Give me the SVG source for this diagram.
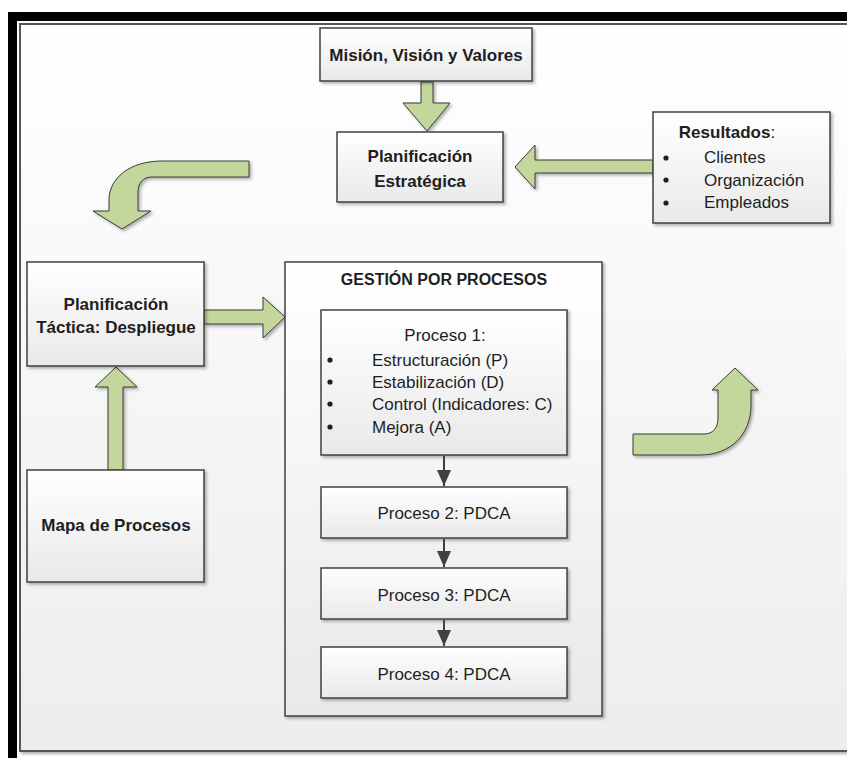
<svg xmlns="http://www.w3.org/2000/svg" width="847" height="758" viewBox="0 0 847 758">
  <defs>
    <linearGradient id="panelFill" x1="0" y1="0" x2="0" y2="1">
      <stop offset="0" stop-color="#ffffff"/>
      <stop offset="1" stop-color="#ededed"/>
    </linearGradient>
    <linearGradient id="boxFill" x1="0" y1="0" x2="0" y2="1">
      <stop offset="0" stop-color="#ffffff"/>
      <stop offset="1" stop-color="#e9e9e9"/>
    </linearGradient>
    <filter id="shadow" x="-10%" y="-10%" width="130%" height="130%">
      <feDropShadow dx="2" dy="2" stdDeviation="1.5" flood-color="#000000" flood-opacity="0.3"/>
    </filter>
    <marker id="arrowHead" viewBox="0 0 16 14" refX="16" refY="7" markerWidth="16" markerHeight="14" markerUnits="userSpaceOnUse" orient="auto">
      <path d="M0,0 L16,7 L0,14 Z" fill="#404040"/>
    </marker>
  </defs>
  <style>
    .box { fill: url(#boxFill); stroke: #404040; stroke-width: 1.5; filter: url(#shadow); }
    .green { fill: #c3d69b; stroke: #3a3a3a; stroke-width: 1; filter: url(#shadow); }
    .t { font-family: "Liberation Sans", Arial, sans-serif; font-size: 17px; fill: #1e1e1e; }
    .b { font-weight: bold; font-size: 17px; }
    .c { text-anchor: middle; }
    .link { stroke: #404040; stroke-width: 2; fill: none; }
  </style>

  <!-- page frame -->
  <rect x="0" y="0" width="847" height="758" fill="#ffffff"/>
  <rect x="8" y="12" width="839" height="9" fill="#000000"/>
  <rect x="8" y="12" width="9" height="746" fill="#000000"/>
  <rect x="20" y="24" width="840" height="727" fill="url(#panelFill)" stroke="#555555" stroke-width="2" filter="url(#shadow)"/>

  <!-- big green block arrows -->
  <g id="arrow-mision-down">
    <path class="green" d="M421,82 H433 V103 H450 L427,131 L403,103 H421 Z"/>
  </g>
  <g id="arrow-resultados-left">
    <path class="green" d="M653,160 V173 H535 V189 L515,167 L535,145 V160 Z"/>
  </g>
  <g id="arrow-curve-down">
    <path class="green" d="M249,161 H162 C130,161 109,178 109,200 V211 H93 L122,229 L151,211 H138 V192 C138,183 143,177 152,177 H249 Z"/>
  </g>
  <g id="arrow-tactica-right">
    <path class="green" d="M204,310 H263 V297 L285,317 L263,338 V324 H204 Z"/>
  </g>
  <g id="arrow-mapa-up">
    <path class="green" d="M108,470 V387 H95 L116,367 L137,387 H123 V470 Z"/>
  </g>
  <g id="arrow-curve-up">
    <path class="green" d="M633,434 H704 C713,434 718,428 718,418 V390 H712 L735,368 L758,390 H751 V405 C751,435 730,455 700,455 H633 Z"/>
  </g>

  <!-- nodes -->
  <g id="mision">
    <rect class="box" x="320" y="28" width="212" height="53"/>
    <text class="t b c" x="426" y="61">Misión, Visión y Valores</text>
  </g>

  <g id="planificacion-estrategica">
    <rect class="box" x="337" y="132" width="166" height="70"/>
    <text class="t b c" x="420" y="162">Planificación</text>
    <text class="t b c" x="420" y="187">Estratégica</text>
  </g>

  <g id="resultados">
    <rect class="box" x="653" y="112" width="177" height="111"/>
    <text class="t c" x="727" y="138"><tspan font-weight="bold">Resultados</tspan>:</text>
    <circle cx="666" cy="158" r="2.6" fill="#1e1e1e"/>
    <circle cx="666" cy="180" r="2.6" fill="#1e1e1e"/>
    <circle cx="666" cy="203" r="2.6" fill="#1e1e1e"/>
    <text class="t" x="704" y="163">Clientes</text>
    <text class="t" x="704" y="186">Organización</text>
    <text class="t" x="704" y="208">Empleados</text>
  </g>

  <g id="planificacion-tactica">
    <rect class="box" x="27" y="262" width="177" height="104"/>
    <text class="t b c" x="116" y="310">Planificación</text>
    <text class="t b c" x="116" y="333">Táctica: Despliegue</text>
  </g>

  <g id="mapa-procesos">
    <rect class="box" x="27" y="470" width="177" height="112"/>
    <text class="t b c" x="116" y="531">Mapa de Procesos</text>
  </g>

  <g id="gestion-procesos">
    <rect class="box" x="285" y="262" width="317" height="454"/>
    <text class="t b c" x="444" y="285" style="font-size:16px">GESTIÓN POR PROCESOS</text>
  </g>

  <g id="proceso-1">
    <rect class="box" x="321" y="310" width="246" height="145"/>
    <text class="t c" x="445" y="341">Proceso 1:</text>
    <circle cx="330" cy="360" r="2.6" fill="#1e1e1e"/>
    <circle cx="330" cy="382" r="2.6" fill="#1e1e1e"/>
    <circle cx="330" cy="404" r="2.6" fill="#1e1e1e"/>
    <circle cx="330" cy="427" r="2.6" fill="#1e1e1e"/>
    <text class="t" x="372" y="366">Estructuración (P)</text>
    <text class="t" x="372" y="388">Estabilización (D)</text>
    <text class="t" x="372" y="410">Control (Indicadores: C)</text>
    <text class="t" x="372" y="433">Mejora (A)</text>
  </g>

  <g id="proceso-2">
    <rect class="box" x="321" y="487" width="246" height="51"/>
    <text class="t c" x="444" y="519">Proceso 2: PDCA</text>
  </g>

  <g id="proceso-3">
    <rect class="box" x="321" y="568" width="246" height="51"/>
    <text class="t c" x="444" y="601">Proceso 3: PDCA</text>
  </g>

  <g id="proceso-4">
    <rect class="box" x="321" y="647" width="246" height="51"/>
    <text class="t c" x="444" y="680">Proceso 4: PDCA</text>
  </g>

  <!-- process flow connectors -->
  <g id="connectors">
    <line class="link" x1="444" y1="456" x2="444" y2="486" marker-end="url(#arrowHead)"/>
    <line class="link" x1="444" y1="539" x2="444" y2="567" marker-end="url(#arrowHead)"/>
    <line class="link" x1="444" y1="620" x2="444" y2="646" marker-end="url(#arrowHead)"/>
  </g>
</svg>
